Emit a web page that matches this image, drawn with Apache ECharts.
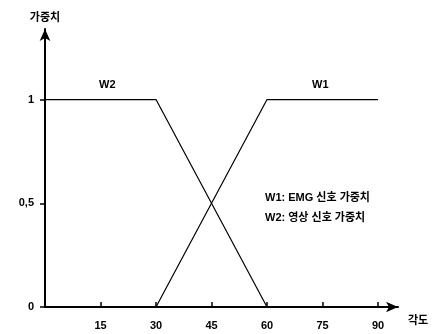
<!DOCTYPE html>
<html>
<head>
<meta charset="utf-8">
<script src="https://cdn.jsdelivr.net/npm/echarts@6/dist/echarts.min.js"></script>
<style>
  html, body { margin: 0; padding: 0; background: #fff; }
  #chart { width: 436px; height: 334px; }
</style>
</head>
<body>
<div id="chart"></div>
<script>
// 각도 (x) 와 가중치 (y)
var angles = [0, 30, 60, 90];
var w1Values = [0, 0, 1, 1];   // EMG 신호 가중치
var w2Values = [1, 1, 0, 0];   // 영상 신호 가중치
var xTicks = [15, 30, 45, 60, 75, 90];
var yTicks = [0, 0.5, 1];

var font = '"Liberation Sans", "Noto Sans CJK KR", sans-serif';

function pairs(xs, ys) {
   return xs.map(function (x, i) { return [x, ys[i]]; });
}

var chart = echarts.init(document.getElementById('chart'));

var option = {
   animation: false,
   backgroundColor: '#fff',
   grid: { left: 45, right: 38, top: 29, bottom: 27 },
   xAxis: {
      type: 'value',
      min: 0,
      max: 95.4,
      name: '각도',
      nameLocation: 'end',
      nameGap: 10,
      nameTextStyle: {
         color: '#000', fontFamily: font, fontWeight: 'bold', fontSize: 11,
         verticalAlign: 'top',
         padding: [8, 0, 0, 0]
      },
      axisLine: {
         lineStyle: { color: '#000', width: 2 },
         symbol: ['none', 'arrow'],
         symbolSize: [8, 12]
      },
      axisTick: {
         customValues: xTicks,
         length: 5,
         inside: true,
         lineStyle: { color: '#000', width: 1.5 }
      },
      axisLabel: {
         customValues: xTicks,
         margin: 13,
         color: '#000',
         fontFamily: font,
         fontWeight: 'bold',
         fontSize: 11
      },
      splitLine: { show: false }
   },
   yAxis: {
      type: 'value',
      min: 0,
      max: 1.34,
      name: '가중치',
      nameLocation: 'end',
      nameGap: 6,
      nameTextStyle: {
         color: '#000', fontFamily: font, fontWeight: 'bold', fontSize: 11,
         align: 'center'
      },
      axisLine: {
         lineStyle: { color: '#000', width: 2 },
         symbol: ['none', 'arrow'],
         symbolSize: [8, 12]
      },
      axisTick: {
         customValues: yTicks,
         length: 5,
         lineStyle: { color: '#000', width: 1.5 }
      },
      axisLabel: {
         customValues: yTicks,
         margin: 11,
         color: '#000',
         fontFamily: font,
         fontWeight: 'bold',
         fontSize: 11,
         formatter: function (v) { return String(v).replace('.', ','); }
      },
      splitLine: { show: false }
   },
   series: [{
      name: 'W1',
      type: 'line',
      data: pairs(angles, w1Values),
      symbol: 'none',
      lineStyle: { color: '#000', width: 1.2 }
   }, {
      name: 'W2',
      type: 'line',
      data: pairs(angles, w2Values),
      symbol: 'none',
      lineStyle: { color: '#000', width: 1.2 }
   }]
};

chart.setOption(option);

// 곡선 이름과 범례 문구
function txt(x, y, s) {
   return {
      type: 'text', left: x, top: y,
      style: { text: s, fill: '#000', font: 'bold 11px ' + font }
   };
}
chart.setOption({
   graphic: [
      txt(99, 79, 'W2'),
      txt(312, 79, 'W1'),
      txt(265, 192, 'W1: EMG 신호 가중치'),
      txt(265, 212, 'W2: 영상 신호 가중치')
   ]
});
</script>
</body>
</html>
